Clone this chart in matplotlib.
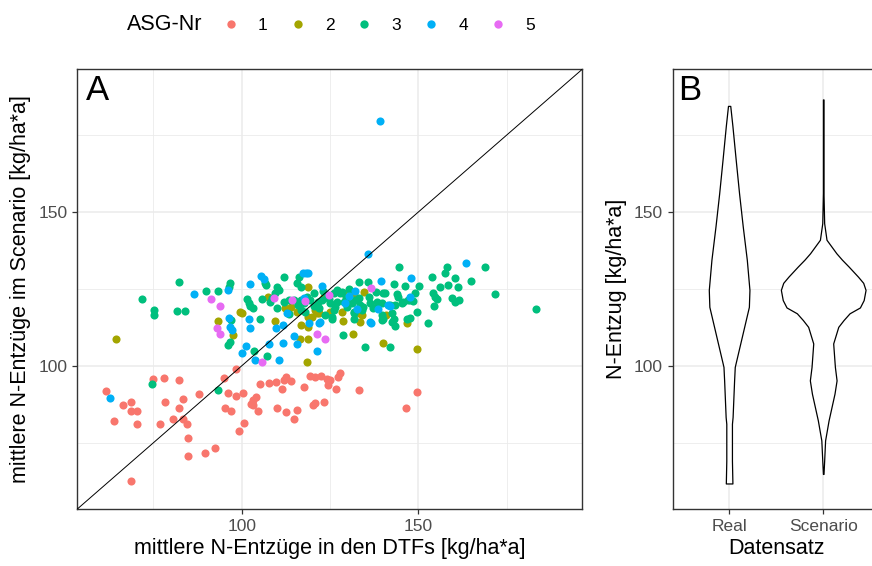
import matplotlib
matplotlib.use('Agg')
import matplotlib.pyplot as plt
from matplotlib.lines import Line2D

plt.rcParams['font.family'] = ['Liberation Sans', 'DejaVu Sans']

# ---- data: (x = DTF mean, y = scenario mean) per ASG group ----
asg1_x = [61.5, 64.0, 66.5, 68.7, 68.7, 70.3, 70.3, 68.7, 74.8, 77.9, 82.3, 77.0, 78.3, 80.7,
          82.3, 83.3, 83.3, 84.5, 84.9, 84.9, 87.9, 89.6, 92.5, 95.0, 98.3, 96.2, 98.3, 100.4,
          95.2, 97.1, 99.2, 100.7, 102.7, 103.3, 104.2, 103.3, 104.7, 105.1, 107.8, 109.6,
          112.0, 112.6, 114.0, 111.5, 110.1, 112.6, 114.7, 115.6, 117.6, 119.3, 120.9, 122.6,
          124.2, 124.9, 124.4, 126.8, 127.3, 127.9, 120.1, 120.7, 123.2, 133.2, 146.6, 149.5]
asg1_y = [91.7, 82.0, 87.4, 88.3, 85.3, 85.3, 81.0, 62.5, 95.7, 96.1, 95.5, 81.0, 88.3, 82.8,
          86.3, 89.1, 82.8, 81.0, 76.5, 70.7, 90.8, 71.6, 73.3, 96.1, 98.9, 91.2, 90.1, 91.2,
          86.3, 85.3, 79.0, 81.4, 87.7, 88.8, 89.8, 87.2, 85.3, 94.0, 94.5, 94.8,
          95.5, 96.3, 95.0, 92.6, 86.3, 85.0, 82.8, 85.8, 93.2, 96.6, 96.4, 96.6,
          95.8, 95.3, 93.7, 92.6, 96.3, 97.7, 87.4, 87.9, 88.3, 92.1, 86.3, 91.5]

asg2_x = [64.3, 93.4, 97.6, 99.4, 100.2, 107.6, 109.4, 112.2, 113.1, 114.0, 115.8, 118.9,
          118.9, 118.5, 118.9, 119.8, 120.8, 121.8, 116.9, 118.8, 116.4, 121.3, 125.1, 128.4,
          128.6, 131.5, 128.8, 131.7, 134.5, 133.1, 134.0, 133.5, 139.9, 140.9, 146.7, 149.5,
          117.6, 123.2]
asg2_y = [108.7, 114.6, 110.2, 117.4, 117.1, 122.5, 114.6, 118.7, 117.6, 119.2, 117.6, 125.8,
          108.9, 101.3, 116.0, 116.0, 118.2, 117.1, 113.3, 112.7, 108.9, 117.1, 117.6, 117.6,
          114.6, 110.5, 123.6, 123.6, 124.1, 117.1, 116.5, 114.3, 107.3, 116.5, 113.8, 105.6,
          121.4, 122.5]

asg3_x = [71.8, 75.3, 75.3, 74.5, 82.3, 81.8, 84.0, 89.9, 93.4, 93.4, 96.7, 96.4, 97.1, 96.0,
          96.7, 101.5, 102.0, 102.5, 103.2, 105.1, 103.5, 107.2, 106.6, 106.9, 105.8, 110.1,
          110.6, 109.4, 108.6, 108.1, 110.1, 112.0, 116.2, 115.8, 116.7, 113.4, 114.8, 112.0,
          113.4, 116.7, 117.6, 118.5, 119.4, 120.4, 116.0, 116.9, 122.7, 124.2, 126.0, 127.0,
          127.9, 125.1, 127.0, 128.9, 123.7, 125.6, 128.4, 128.6, 129.8, 131.7, 133.1, 135.9,
          133.1, 134.3, 136.4, 135.0, 131.2, 133.5, 126.0, 131.7, 134.0, 137.3, 139.7, 142.5,
          143.0, 125.6, 131.7, 139.7, 142.5, 146.7, 138.2, 139.7, 140.1, 140.6, 142.0, 145.3,
          147.6, 140.1, 142.0, 143.2, 144.2, 144.1, 143.4, 144.4, 146.2, 145.8, 147.2, 143.4,
          147.7, 149.1, 150.3, 148.4, 149.5, 152.8, 153.8, 154.1, 154.7, 155.4, 154.5, 156.1,
          158.0, 157.5, 158.5, 160.5, 161.3, 159.4, 160.5, 161.6, 165.0, 168.8, 171.8, 183.2,
          120.5, 121.5, 122.0, 118.0, 124.8, 126.5, 123.0, 129.5, 130.5, 132.0, 136.0, 138.0]
asg3_y = [121.7, 118.2, 116.5, 94.2, 127.2, 117.9, 117.9, 124.3, 124.3, 92.1, 126.8, 125.8, 114.9,
          106.7, 107.8, 121.6, 120.5, 119.6, 118.7, 115.1, 105.0, 103.2, 126.8, 126.3, 121.6,
          125.8, 124.7, 123.6, 122.0, 120.9, 118.7, 129.0, 129.0, 126.8, 125.8, 121.4, 121.4,
          120.9, 116.9, 121.4, 120.3, 122.5, 121.4, 123.6, 119.8, 118.2, 121.4, 123.0, 123.6,
          124.7, 123.6, 120.3, 120.9, 120.9, 116.5, 116.0, 124.1, 110.2, 119.2, 117.1, 127.2,
          127.4, 122.0, 119.2, 120.3, 106.2, 120.3, 119.8, 118.2, 117.6, 118.2, 118.7, 116.5,
          117.1, 115.4, 115.4, 115.4, 114.9, 114.3, 115.4, 120.9, 120.3, 123.6, 123.6, 119.8,
          120.3, 121.4, 115.4, 106.2, 126.6, 122.5, 123.3, 119.8, 132.1, 126.1, 120.9, 121.4,
          112.9, 115.7, 123.6, 126.1, 121.2, 117.6, 114.0, 129.0, 123.6, 122.5, 121.6, 119.5,
          125.8, 132.1, 130.1, 126.3, 128.7, 125.8, 122.0, 120.9, 121.4, 127.6, 132.1, 123.3,
          118.4, 119.5, 120.8, 118.8, 117.5, 121.8, 119.0, 124.5, 122.0, 125.0, 121.5, 122.5,
          124.0]

asg4_x = [62.8, 86.6, 96.2, 96.4, 96.7, 97.2, 101.3, 100.0, 102.5, 102.0, 102.5, 103.8, 105.6,
          106.3, 107.7, 109.8, 110.6, 111.8, 111.8, 112.8, 114.7, 115.7, 117.3, 118.2, 118.8,
          117.6, 119.0, 121.3, 122.0, 122.7, 129.3, 130.3, 132.2, 135.7, 136.7, 138.7, 139.2,
          139.5, 142.0, 147.7, 147.9, 163.4, 132.6, 122.3, 141.5, 136.4]
asg4_y = [89.7, 123.3, 124.7, 115.7, 112.7, 111.8, 106.4, 104.2, 126.6, 115.1, 112.2, 101.8, 129.2,
          128.3, 107.1, 112.2, 101.8, 107.3, 113.3, 117.1, 109.7, 107.1, 130.1, 130.1, 130.1,
          122.0, 113.8, 104.9, 114.0, 126.1, 120.3, 122.8, 124.5, 136.4, 114.0, 118.4, 179.6,
          127.6, 119.5, 122.3, 128.7, 133.4, 118.4, 114.3, 119.8, 114.3]

asg5_x = [91.3, 93.8, 92.9, 93.8, 105.8, 121.3, 123.7, 118.0, 124.6, 136.7, 114.3, 109.1]
asg5_y = [121.7, 119.5, 112.2, 110.5, 101.3, 110.5, 108.7, 121.1, 123.0, 125.2, 121.4, 122.0]

asg_labels = ['1', '2', '3', '4', '5']
asg_colors = ['#F8766D', '#A3A500', '#00BF7D', '#00B0F6', '#E76BF3']

# ---- violin outlines: N-Entzug level and half width ----
datensatz = ['Real', 'Scenario']
real_y = [61.8, 69.2, 81.2, 83.4, 95.3, 99.7, 106.2, 112.7, 119.2, 124.7, 134.5, 145.3,
          156.0, 167.0, 178.0, 184.5]
real_w = [0.035, 0.03, 0.03, 0.037, 0.053, 0.06, 0.11, 0.16, 0.21, 0.216, 0.188, 0.145,
          0.106, 0.07, 0.035, 0.012]
scen_y = [64.9, 69.2, 75.8, 82.3, 91.0, 95.3, 99.7, 107.3, 112.7, 114.9, 117.1, 119.0, 121.4,
          124.7, 127.0, 129.0, 132.3, 134.5, 136.6, 141.0, 146.4, 156.2, 186.6]
scen_w = [0.003, 0.01, 0.02, 0.057, 0.12, 0.142, 0.124, 0.106, 0.16, 0.216, 0.28, 0.39, 0.43,
          0.45, 0.425, 0.37, 0.27, 0.2, 0.14, 0.035, 0.01, 0.003, 0.003]

lims = (53.5, 196.4)
grid_col = '#EBEBEB'
dark = '#333333'
tick_col = '#4D4D4D'
title_size = 15.5
tick_size = 12.5


def style_axes(ax):
    # theme_bw look: grey grid, dark border
    ax.set_axisbelow(True)
    ax.grid(True, which='major', color=grid_col, lw=1.1)
    ax.grid(True, which='minor', color=grid_col, lw=0.6)
    for s in ax.spines.values():
        s.set_color(dark)
        s.set_linewidth(1.0)
    ax.tick_params(which='major', length=3.6, width=0.9, color=dark,
                   labelsize=tick_size, labelcolor=tick_col, pad=3.5)
    ax.tick_params(which='minor', length=0)


fig = plt.figure(figsize=(8.72, 5.66), dpi=100)

# ---- panel A: scatter ----
axA = fig.add_axes([0.0887, 0.1007, 0.579, 0.7769])
groups = [(asg1_x, asg1_y), (asg2_x, asg2_y), (asg3_x, asg3_y), (asg4_x, asg4_y), (asg5_x, asg5_y)]
for (gx, gy), col in zip(groups, asg_colors):
    axA.scatter(gx, gy, s=34, color=col, linewidths=0, zorder=3)
axA.axline((100, 100), slope=1, color='black', lw=0.7, zorder=4)
axA.set_xlim(lims)
axA.set_ylim(lims)
axA.set_xticks([100, 150])
axA.set_yticks([100, 150])
axA.set_xticks([75, 125, 175], minor=True)
axA.set_yticks([75, 125, 175], minor=True)
style_axes(axA)
axA.set_xlabel('mittlere N-Entzüge in den DTFs [kg/ha*a]', fontsize=title_size, labelpad=3)
axA.set_ylabel('mittlere N-Entzüge im Scenario [kg/ha*a]', fontsize=title_size, labelpad=5)
axA.text(0.018, 0.99, 'A', transform=axA.transAxes, fontsize=25, ha='left', va='top')

# ---- panel B: violins ----
axB = fig.add_axes([0.7714, 0.1007, 0.2374, 0.7769])
for pos, vy, vw in [(1, real_y, real_w), (2, scen_y, scen_w)]:
    left = [pos - w for w in vw]
    right = [pos + w for w in vw]
    axB.fill_betweenx(vy, left, right, facecolor='white', edgecolor='black', lw=0.9, zorder=3)
axB.set_xlim(0.4, 2.6)
axB.set_ylim(lims)
axB.set_xticks([1, 2])
axB.set_xticklabels(datensatz)
axB.set_yticks([100, 150])
axB.set_yticks([75, 125, 175], minor=True)
style_axes(axB)
axB.set_xlabel('Datensatz', fontsize=title_size, labelpad=3)
axB.set_ylabel('N-Entzug [kg/ha*a]', fontsize=title_size, labelpad=5)
axB.text(0.026, 0.99, 'B', transform=axB.transAxes, fontsize=25, ha='left', va='top')

# ---- legend across the top ----
fig.text(127 / 872, 1 - 25 / 566, 'ASG-Nr', fontsize=title_size, ha='left', va='center')
handles = [Line2D([], [], marker='o', linestyle='none', markersize=6,
                  markerfacecolor=c, markeredgewidth=0) for c in asg_colors]
fig.legend(handles, asg_labels, loc='center left', bbox_to_anchor=(222 / 872, 1 - 25 / 566),
           ncol=5, frameon=False, fontsize=tick_size, handlelength=1.0, handletextpad=1.08,
           columnspacing=1.21, borderpad=0, borderaxespad=0)

fig.savefig('out.png', dpi=100)
